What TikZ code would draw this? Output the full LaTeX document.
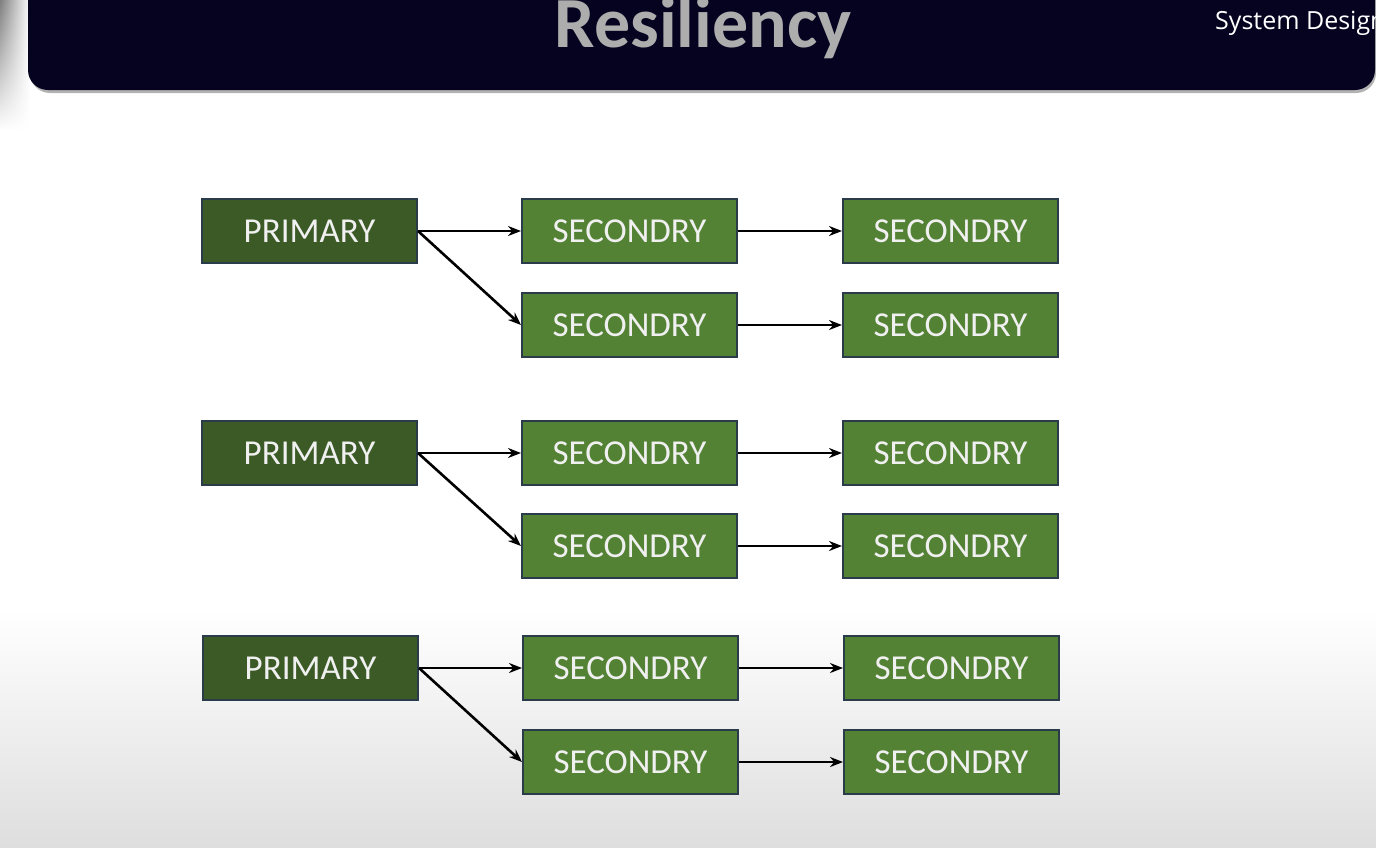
\documentclass[tikz,border=0pt]{standalone}
\usepackage{fontspec}
\setmainfont{Carlito}
\newfontfamily\uifont{Open Sans}
\usetikzlibrary{arrows.meta,fadings}
\definecolor{navy}{HTML}{050320}
\definecolor{pgreen}{HTML}{3B5A26}
\definecolor{sgreen}{HTML}{548235}
\definecolor{bedge}{HTML}{2A3B4A}
\definecolor{txt}{HTML}{F0F0F0}
\tikzfading[name=fadedown, top color=transparent!0, bottom color=transparent!100]
\tikzset{
  box/.style={draw=bedge, line width=2pt, minimum width=215pt, minimum height=64pt,
    inner sep=0pt, text=txt, font=\fontsize{35}{35}\selectfont, anchor=north west},
  prim/.style={box, fill=pgreen},
  sec/.style={box, fill=sgreen},
  conn/.style={-{Stealth[length=13pt,width=10pt]}, line width=2.6pt, black},
}
\begin{document}
\begin{tikzpicture}[x=1pt,y=-1pt]
\useasboundingbox (0,0) rectangle (1376,847);
% background
\fill[white] (0,0) rectangle (1376,847);
\shade[top color=white, bottom color=black!13] (0,610) rectangle (1376,847);
\shade[left color=black!50, right color=white, path fading=fadedown] (0,0) rectangle (30,130);
% header
\fill[black!30, rounded corners=20pt] (30,-30) rectangle (1376,93);
\fill[navy, rounded corners=20pt] (28,-40) rectangle (1375,90);
\node[text=black!32, font=\bfseries\fontsize{72}{72}\selectfont, anchor=base, inner sep=0pt] (title) at (703,47) {Resiliency};
\node[text=white, font=\uifont\fontsize{25}{25}\selectfont, anchor=base west, inner sep=0pt] (sys) at (1215,29) {System Design};
% group 1
\node[prim] (p1) at (201,198) {PRIMARY};
\node[sec] (a1) at (521,198) {SECONDRY};
\node[sec] (b1) at (521,292) {SECONDRY};
\node[sec] (c1) at (842,198) {SECONDRY};
\node[sec] (d1) at (842,292) {SECONDRY};
% group 2
\node[prim] (p2) at (201,420) {PRIMARY};
\node[sec] (a2) at (521,420) {SECONDRY};
\node[sec] (b2) at (521,513) {SECONDRY};
\node[sec] (c2) at (842,420) {SECONDRY};
\node[sec] (d2) at (842,513) {SECONDRY};
% group 3
\node[prim] (p3) at (202,635) {PRIMARY};
\node[sec] (a3) at (522,635) {SECONDRY};
\node[sec] (b3) at (522,729) {SECONDRY};
\node[sec] (c3) at (843,635) {SECONDRY};
\node[sec] (d3) at (843,729) {SECONDRY};
\foreach \g in {1,2,3}{
  \draw[conn] (p\g.east) -- (a\g.west);
  \draw[conn] (p\g.east) -- (b\g.west);
  \draw[conn] (a\g.east) -- (c\g.west);
  \draw[conn] (b\g.east) -- (d\g.west);
}
\end{tikzpicture}
\end{document}
